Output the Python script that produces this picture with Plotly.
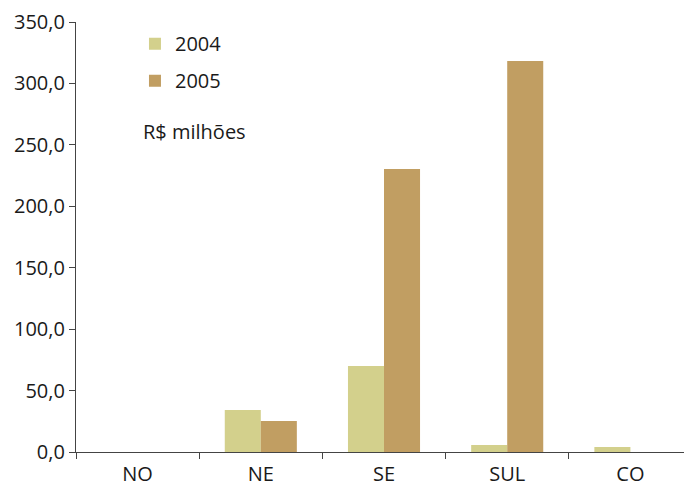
import plotly.graph_objects as go

categories = ["NO", "NE", "SE", "SUL", "CO"]
values_2004 = [0.0, 34.2, 70.0, 5.7, 4.0]
values_2005 = [0.0, 25.2, 230.3, 318.2, 0.0]
y_ticks = [0, 50, 100, 150, 200, 250, 300, 350]

color_2004 = "#D3D08C"
color_2005 = "#C19E62"
font_family = "Open Sans, Noto Sans, sans-serif"
text_color = "#1a1a1a"

fig = go.Figure()
fig.add_trace(go.Bar(name="2004", x=categories, y=values_2004, marker_color=color_2004,
                     marker_line_width=0, legendgroup="a"))
fig.add_trace(go.Bar(name="2005", x=categories, y=values_2005, marker_color=color_2005,
                     marker_line_width=0, legendgroup="b"))

fig.update_layout(
    width=684, height=488,
    margin=dict(l=76, r=0, t=22, b=36, autoexpand=False),
    paper_bgcolor="white", plot_bgcolor="white",
    separators=", ",
    barmode="group", bargap=0.415, bargroupgap=0,
    font=dict(family=font_family, size=20, color=text_color),
    legend=dict(x=0.097, y=0.995, xanchor="left", yanchor="top", bgcolor="rgba(0,0,0,0)",
                tracegroupgap=8, font=dict(size=20)),
    xaxis=dict(range=[-0.5, 4.435], showline=True, linecolor="#444444", linewidth=1.2,
               ticks="outside", tickson="boundaries", ticklen=6, tickcolor="#444444",
               showgrid=False, tickfont=dict(size=20), ticklabelstandoff=4, automargin=False),
    yaxis=dict(range=[0, 350], tickvals=y_ticks, tickformat=".1f", showline=True,
               linecolor="#444444", linewidth=1.2, ticks="outside", ticklen=6,
               tickcolor="#444444", showgrid=False, zeroline=False, tickfont=dict(size=20),
               automargin=False),
    annotations=[dict(text="R$ milhões", xref="paper", yref="paper", x=0.107, y=0.745,
                      xanchor="left", yanchor="middle", showarrow=False,
                      font=dict(size=20, color=text_color))],
)

fig.write_html("out.html", config={"displayModeBar": False},
               post_script="document.body.style.margin='0';document.body.style.overflow='hidden';")
